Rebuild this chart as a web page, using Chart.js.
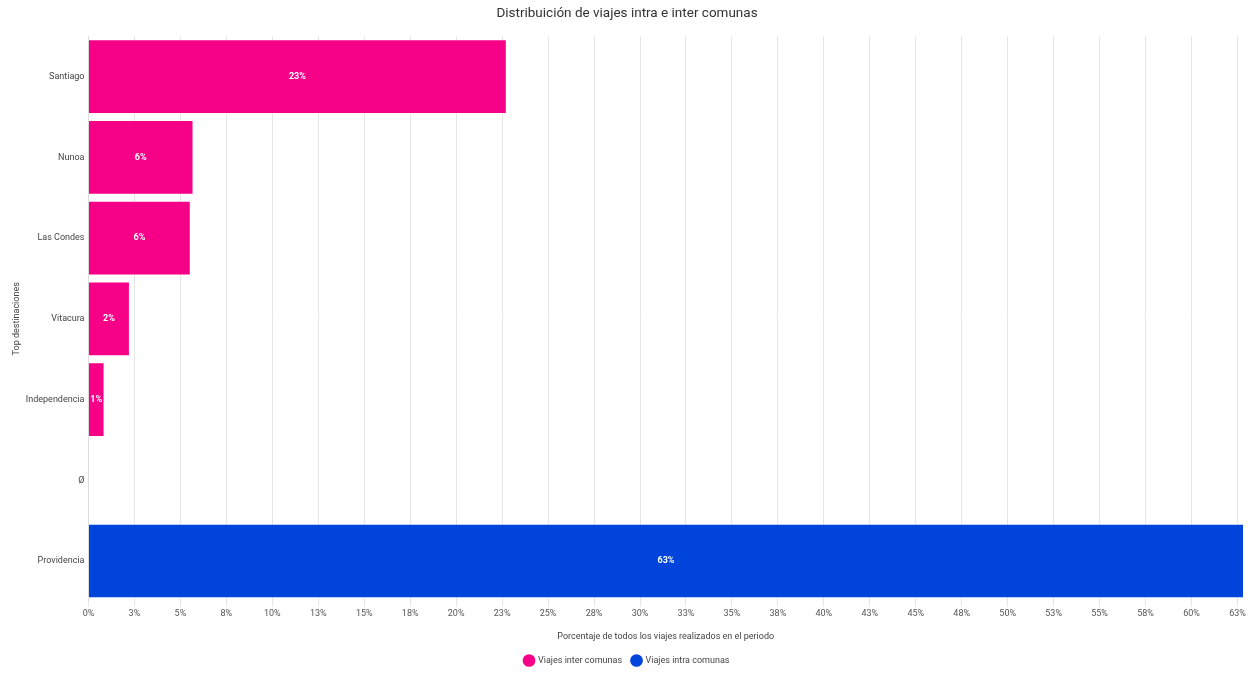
<!DOCTYPE html>
<html>
<head>
<meta charset="utf-8">
<script src="https://cdn.jsdelivr.net/npm/chart.js@4"></script>
<style>
  html, body { margin: 0; padding: 0; background: #fff; }
  #wrap { width: 1252px; height: 675px; }
</style>
</head>
<body>
<div id="wrap"><canvas id="tripsChart"></canvas></div>
<script>
// data
const destinations = ['Santiago', 'Nunoa', 'Las Condes', 'Vitacura', 'Independencia', 'Ø', 'Providencia'];
const interComunas = [22.7, 5.66, 5.51, 2.2, 0.82, null, null];
const intraComunas = [null, null, null, null, null, null, 62.8];
const xMax = 62.8;
const tickStep = 2.5;

const PINK = '#f50087';
const BLUE = '#0044db';

// draws the white % label in the middle of each bar
const barLabels = {
    id: 'barLabels',
    afterDatasetsDraw(chart) {
        const ctx = chart.ctx;
        ctx.save();
        ctx.font = 'bold 9px Roboto';
        ctx.fillStyle = '#ffffff';
        ctx.textAlign = 'center';
        ctx.textBaseline = 'middle';
        chart.data.datasets.forEach((ds, i) => {
            chart.getDatasetMeta(i).data.forEach((bar, j) => {
                const v = ds.data[j];
                if (v == null) return;
                const p = bar.getProps(['x', 'y', 'base'], true);
                ctx.fillText(Math.round(v) + '%', (p.x + p.base) / 2, p.y);
            });
        });
        ctx.restore();
    }
};

new Chart(document.getElementById('tripsChart'), {
    type: 'bar',
    data: {
        labels: destinations,
        datasets: [
            { label: 'Viajes inter comunas', data: interComunas, backgroundColor: PINK },
            { label: 'Viajes intra comunas', data: intraComunas, backgroundColor: BLUE }
        ]
    },
    options: {
        indexAxis: 'y',
        responsive: true,
        maintainAspectRatio: false,
        animation: false,
        layout: { padding: { left: 11, right: 9, top: 4, bottom: 0 } },
        datasets: { bar: { categoryPercentage: 1, barPercentage: 0.9 } },
        scales: {
            x: {
                stacked: true,
                min: 0,
                max: xMax,
                afterBuildTicks(scale) {
                    const ticks = [];
                    for (let v = 0; v <= xMax; v += tickStep) ticks.push({ value: v });
                    scale.ticks = ticks;
                },
                grid: { color: '#e6e6e6', tickLength: 5 },
                border: { display: false },
                ticks: {
                    color: '#555',
                    font: { family: 'Roboto', size: 9 },
                    padding: 2,
                    maxRotation: 0,
                    autoSkip: false,
                    callback: v => Math.round(v) + '%'
                },
                title: {
                    display: true,
                    text: 'Porcentaje de todos los viajes realizados en el periodo',
                    color: '#444',
                    font: { family: 'Roboto', size: 9 },
                    padding: { top: 10, bottom: 4 }
                }
            },
            y: {
                stacked: true,
                grid: { display: false, drawTicks: false },
                border: { color: '#dddddd' },
                ticks: {
                    color: '#444',
                    font: { family: 'Roboto', size: 9 },
                    padding: 4
                },
                title: {
                    display: true,
                    text: 'Top destinaciones',
                    color: '#444',
                    font: { family: 'Roboto', size: 9 },
                    padding: { top: 0, bottom: 0 }
                }
            }
        },
        plugins: {
            title: {
                display: true,
                text: 'Distribuición de viajes intra e inter comunas',
                color: '#333',
                font: { family: 'Roboto', size: 13.5, weight: 'normal' },
                padding: { top: 2, bottom: 14 }
            },
            legend: {
                position: 'bottom',
                labels: {
                    usePointStyle: true,
                    pointStyle: 'circle',
                    boxWidth: 9,
                    boxHeight: 9,
                    padding: 10,
                    color: '#444',
                    font: { family: 'Roboto', size: 9 }
                }
            },
            tooltip: { enabled: false }
        }
    },
    plugins: [barLabels]
});
</script>
</body>
</html>
